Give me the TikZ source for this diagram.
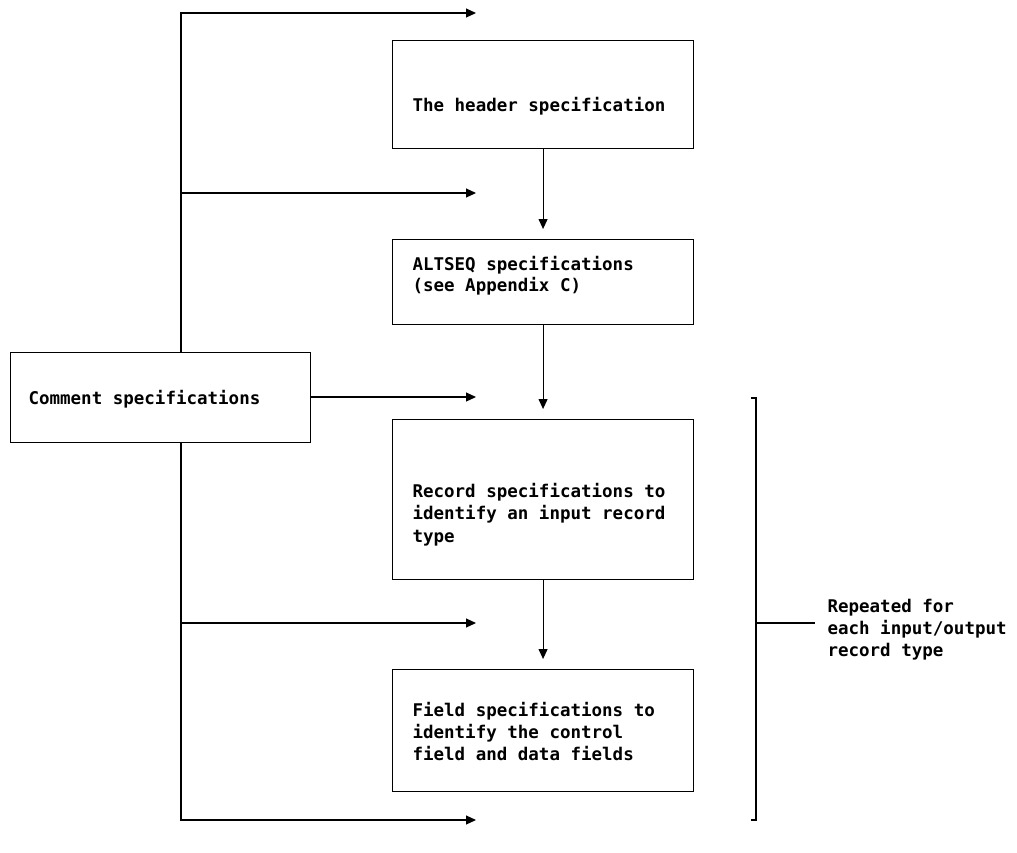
\documentclass[tikz,border=0pt]{standalone}
\usepackage{fontspec}
\newfontfamily\lblfont{DejaVu Sans Mono}
\usetikzlibrary{arrows.meta}
\newcommand{\lbl}{\lblfont\bfseries\fontsize{17.5}{22}\selectfont}
\begin{document}
\begin{tikzpicture}[x=1pt,y=-1pt,line width=1.1pt,
  box/.style={draw,fill=white,inner sep=0pt,anchor=north west},
  txt/.style={anchor=base west,inner sep=0pt,font=\lbl},
  arr/.style={-{Triangle[length=10pt,width=9pt]}},
  gap/.style={shorten >=10pt}]
\useasboundingbox (0,0) rectangle (1017,852);
% boxes
\node[box,minimum width=301pt,minimum height=108pt] (hdr) at (392,40) {};
\node[box,minimum width=301pt,minimum height=85pt] (alt) at (392,239) {};
\node[box,minimum width=301pt,minimum height=160pt] (rec) at (392,419) {};
\node[box,minimum width=301pt,minimum height=122pt] (fld) at (392,669) {};
\node[box,minimum width=300pt,minimum height=90pt] (cmt) at (10,352) {};
% texts
\node[txt] (hdr1) at (412,111) {The header specification};
\node[txt] (alt1) at (412,270) {ALTSEQ specifications};
\node[txt] (alt2) at (412,291) {(see Appendix C)};
\node[txt] (rec1) at (412,497) {Record specifications to};
\node[txt] (rec2) at (412,519) {identify an input record};
\node[txt] (rec3) at (412,542) {type};
\node[txt] (fld1) at (412,716) {Field specifications to};
\node[txt] (fld2) at (412,738) {identify the control};
\node[txt] (fld3) at (412,760) {field and data fields};
\node[txt] (cmt1) at (28,404) {Comment specifications};
\node[txt] (rep1) at (827,612) {Repeated for};
\node[txt] (rep2) at (827,634) {each input/output};
\node[txt] (rep3) at (827,656) {record type};
% coordinates
\coordinate (tTop) at (181,13);
\coordinate (tBot) at (181,820);
\coordinate (e1) at (476,13);
\coordinate (e2) at (476,193);
\coordinate (e3) at (476,397);
\coordinate (e4) at (476,623);
\coordinate (e5) at (476,820);
\coordinate (bT) at (756,398);
\coordinate (bB) at (756,820);
\coordinate (rEnd) at (815,623);
% trunk and horizontal arrows
\draw[arr] (cmt.north -| tTop) -- (tTop) -- (e1);
\draw[arr] (cmt.south -| tBot) -- (tBot) -- (e5);
\draw[arr] (tTop |- e2) -- (e2);
\draw[arr] (tTop |- e4) -- (e4);
\draw[arr] (cmt.east |- e3) -- (e3);
% vertical arrows
\draw[arr,gap] (hdr.south) -- (alt.north);
\draw[arr,gap] (alt.south) -- (rec.north);
\draw[arr,gap] (rec.south) -- (fld.north);
% bracket
\draw ([xshift=-5pt]bT) -- (bT) -- (bB) -- ([xshift=-5pt]bB);
\draw (bT |- rEnd) -- (rEnd);
\end{tikzpicture}
\end{document}
